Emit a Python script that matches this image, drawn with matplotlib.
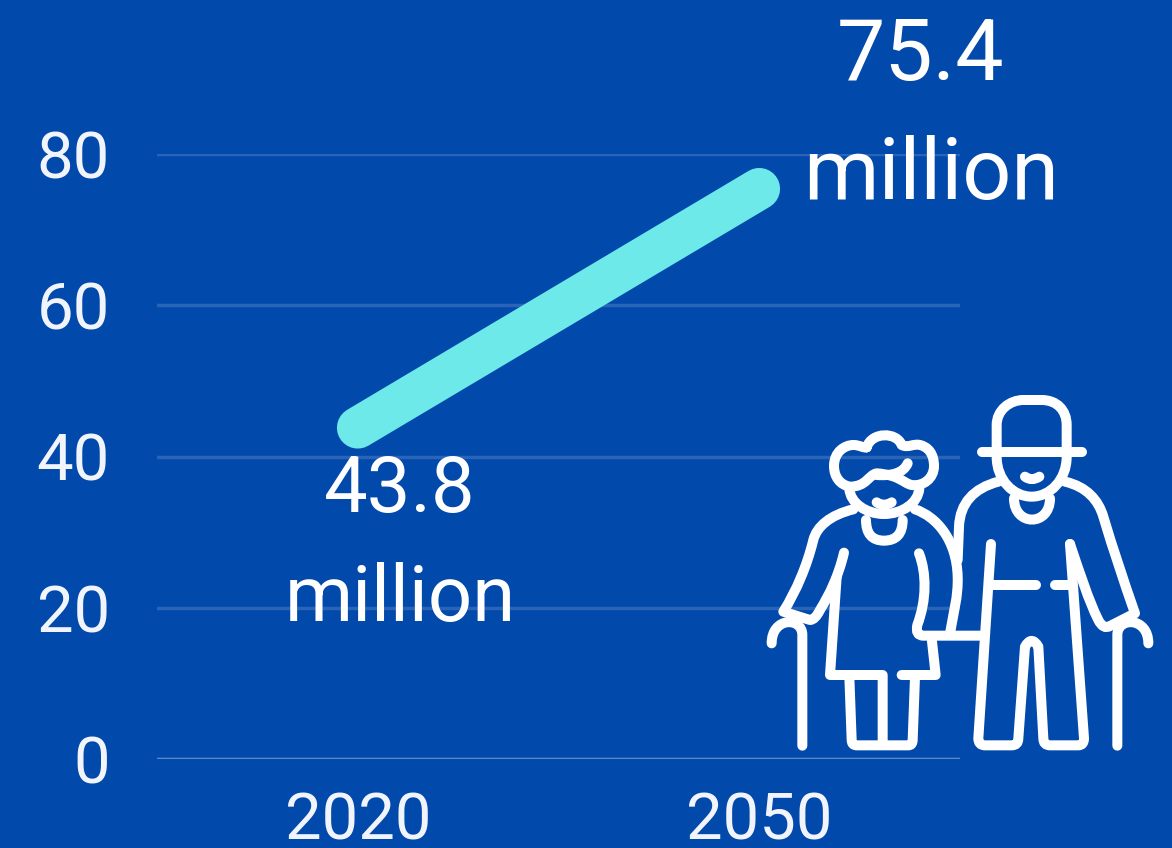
import matplotlib
matplotlib.use("Agg")
import matplotlib.pyplot as plt
from matplotlib.patches import PathPatch
from matplotlib.path import Path

years = ["2020", "2050"]
population = [43.8, 75.4]
y_ticks = [0, 20, 40, 60, 80]

BG = "#0249AC"
W, H = 1172, 848

# outline of the elderly couple, in icon units (1200 x 1110)
woman = [
    "M 320 172 C 335 125 410 125 425 165 C 445 175 460 160 480 165 C 520 175 522 215 522 228 C 522 265 490 290 455 285 C 430 280 420 255 350 250 C 325 255 320 290 270 290 C 240 285 222 260 222 228 C 222 185 255 165 280 165 C 300 165 310 175 320 172",
    "M 443 220 C 430 250 395 258 350 255",
    "M 268 295 C 270 340 320 372 372 372 C 425 372 475 340 478 295",
    "M 350 337 Q 372 352 395 337",
    "M 318 390 Q 318 452 372 452 Q 428 452 428 390",
    "M 280 358 C 210 375 170 410 160 450 C 140 530 110 600 70 665 L 150 690 Q 165 690 180 660 C 210 610 235 560 252 488",
    "M 465 358 C 530 380 590 450 593 560 C 595 620 580 670 570 730",
    "M 477 490 C 500 550 500 630 472 705 Q 465 737 490 737 L 670 737",
    "M 230 560 L 210 855 L 368 855 L 368 1060",
    "M 515 745 L 527 855 L 425 855",
    "M 268 860 L 275 1050 Q 275 1066 290 1066 L 445 1066 Q 458 1066 458 1050 L 465 860",
    "M 127 1067 L 127 735 C 127 680 35 680 35 760",
]
man = [
    "M 710 180 L 710 105 C 710 60 750 30 790 30 L 845 30 C 890 30 920 60 920 105 L 920 180",
    "M 665 185 L 967 185",
    "M 710 200 C 710 270 760 320 815 320 C 870 320 920 270 920 200",
    "M 795 260 Q 815 275 838 260",
    "M 762 325 C 762 410 870 410 870 325",
    "M 715 275 C 640 295 600 340 597 410 L 593 510",
    "M 915 275 C 980 290 1015 330 1030 380 C 1060 480 1090 570 1125 670 L 1050 708 Q 1030 720 1015 690 C 985 630 960 550 930 462",
    "M 693 462 L 655 1045 Q 655 1066 675 1066 L 755 1066 Q 775 1066 775 1045 L 795 770 Q 815 735 835 770 L 850 1045 Q 850 1066 870 1066 L 955 1066 Q 972 1066 972 1045 L 930 462",
    "M 695 585 L 828 585",
    "M 885 585 L 935 585",
    "M 1072 1067 L 1072 735 C 1072 680 1165 680 1165 760",
]


def to_path(d):
    # small reader for M/L/Q/C path strings
    codes = {"M": (Path.MOVETO, 1), "L": (Path.LINETO, 1), "Q": (Path.CURVE3, 2), "C": (Path.CURVE4, 3)}
    tok = d.split()
    verts, kinds = [], []
    i = 0
    while i < len(tok):
        code, n = codes[tok[i]]
        i += 1
        for _ in range(n):
            verts.append((float(tok[i]), float(tok[i + 1])))
            kinds.append(code)
            i += 2
    return Path(verts, kinds)


plt.rcParams["font.family"] = ["Roboto", "DejaVu Sans"]

fig = plt.figure(figsize=(W / 100, H / 100), dpi=100, facecolor=BG)
ax = fig.add_axes([157 / W, 1 - 759 / H, (960 - 157) / W, (759 - 154) / H], facecolor=BG)

xs = range(len(years))
ax.plot(xs, population, color="#6DE9EA", lw=30, solid_capstyle="round", zorder=3, clip_on=False)

ax.set_xlim(-0.5, 1.5)
ax.set_ylim(0, 80)
ax.set_xticks(list(xs), years)
ax.set_yticks(y_ticks)
ax.tick_params(length=0, labelcolor="#F1F5FB", labelsize=47)
ax.tick_params(axis="y", pad=34)
ax.tick_params(axis="x", pad=23)
for s in ax.spines.values():
    s.set_visible(False)
ax.yaxis.grid(True, color="#2A64B6", lw=2.5)
ax.set_axisbelow(True)
ax.axhline(0, color="#5A88C8", lw=2.5, zorder=1)

# value labels, offset from the line ends (points)
label_kw = dict(textcoords="offset points", color="white", ha="center", va="baseline", annotation_clip=False)
ax.annotate(f"{population[0]}", (0, population[0]), xytext=(30, -61), fontsize=56, **label_kw)
ax.annotate("million", (0, population[0]), xytext=(30.5, -139), fontsize=56, **label_kw)
ax.annotate(f"{population[1]}", (1, population[1]), xytext=(116, 78), fontsize=62, **label_kw)
ax.annotate("million", (1, population[1]), xytext=(124, -7), fontsize=62, **label_kw)

# couple icon on top of the chart
icon = fig.add_axes([760 / W, 1 - 760 / H, 400 / W, 370 / H])
icon.set_xlim(0, 1200)
icon.set_ylim(1110, 0)
icon.axis("off")
for d in woman + man:
    icon.add_patch(PathPatch(to_path(d), fc="none", ec="white", lw=7.2, capstyle="round", joinstyle="round", clip_on=False))

fig.savefig("out.png", dpi=100, facecolor=BG)
